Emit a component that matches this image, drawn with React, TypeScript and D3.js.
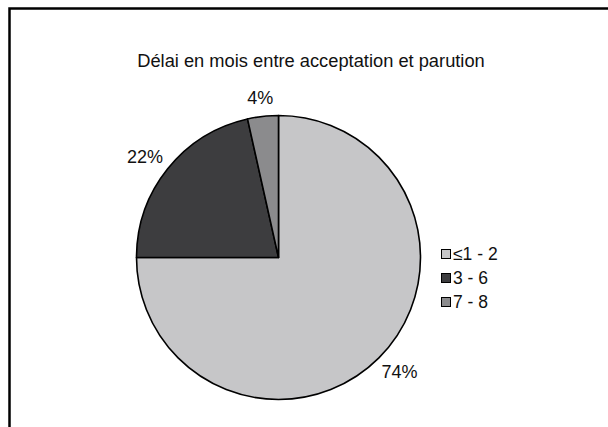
import React from "react";
import * as d3 from "d3";

// slices, clockwise from 12 o'clock
const categories = ["≤1 - 2", "3 - 6", "7 - 8"];
const shares = [75, 21.5, 3.5];
const shareLabels = ["74%", "22%", "4%"];
const colors = ["#c6c6c8", "#3d3d3f", "#8b8b8d"];

const title = "Délai en mois entre acceptation et parution";

const App = () => {
  const width = 608;
  const height = 427;
  const cx = 278.5;
  const cy = 257.5;
  const radius = 142;
  const font = "'Liberation Sans', Arial, Helvetica, sans-serif";

  const pie = d3.pie<number>().sort(null).value((d) => d);
  const arcs = pie(shares);
  const arc = d3.arc<d3.PieArcDatum<number>>().innerRadius(0).outerRadius(radius);

  const legendY = d3.scalePoint<string>().domain(categories).range([254, 302]);

  return (
    <svg
      width={width}
      height={height}
      style={{ position: "absolute", left: 0, top: 0, background: "#fff" }}
      fontFamily={font}
    >
      {/* frame, cut at the right and bottom like the source */}
      <path d="M9.5,440 V8.5 H620" fill="none" stroke="#000" strokeWidth={2.5} />

      <text x={311} y={67} textAnchor="middle" fontSize={18.3} fill="#111">
        {title}
      </text>

      <g transform={`translate(${cx},${cy})`}>
        {arcs.map((a, i) => (
          <path
            key={i}
            d={arc(a) || ""}
            fill={colors[i]}
            stroke="#000"
            strokeWidth={1.6}
            strokeLinejoin="round"
          />
        ))}
        {arcs.map((a, i) => {
          const mid = (a.startAngle + a.endAngle) / 2;
          const s = Math.sin(mid);
          const c = Math.cos(mid);
          const gap = radius + 14;
          const w = shareLabels[i].length * 10;
          const x = gap * s + (s * w) / 2;
          const y = -gap * c - (c * 10) / 2;
          return (
            <text
              key={i}
              x={x}
              y={y}
              dy="0.36em"
              textAnchor="middle"
              fontSize={18}
              fill="#111"
            >
              {shareLabels[i]}
            </text>
          );
        })}
      </g>

      <g>
        {categories.map((c, i) => (
          <g key={c} transform={`translate(441,${legendY(c)})`}>
            <rect
              x={0.5}
              y={-4.5}
              width={9}
              height={9}
              fill={colors[i]}
              stroke="#000"
              strokeWidth={1}
            />
            <text x={12} y={0} dy="0.36em" fontSize={17.5} fill="#111">
              {c}
            </text>
          </g>
        ))}
      </g>
    </svg>
  );
};

export default App;
